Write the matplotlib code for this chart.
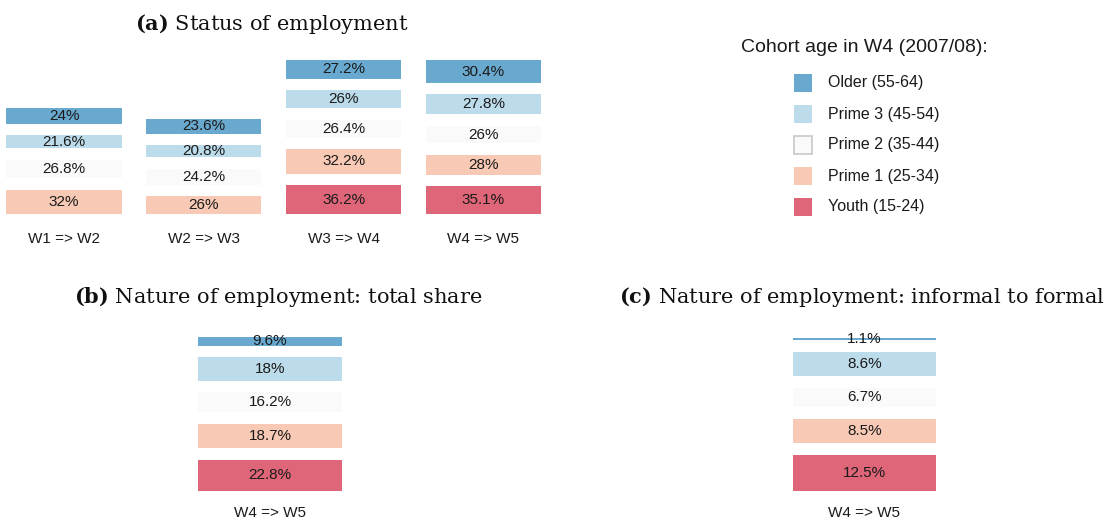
import numpy as np
import matplotlib
matplotlib.use("Agg")
import matplotlib.pyplot as plt
from matplotlib.patches import Rectangle

## -- data -- ##
cohorts = ["Older (55-64)", "Prime 3 (45-54)", "Prime 2 (35-44)", "Prime 1 (25-34)", "Youth (15-24)"]
legend_title = "Cohort age in W4 (2007/08):"

waves_a = ["W1 => W2", "W2 => W3", "W3 => W4", "W4 => W5"]
older_a  = [24.0, 23.6, 27.2, 30.4]
prime3_a = [21.6, 20.8, 26.0, 27.8]
prime2_a = [26.8, 24.2, 26.4, 26.0]
prime1_a = [32.0, 26.0, 32.2, 28.0]
youth_a  = [np.nan, np.nan, 36.2, 35.1]

waves_bc = ["W4 => W5"]
total_share_b   = [9.6, 18.0, 16.2, 18.7, 22.8]   # Older .. Youth
inf_to_formal_c = [1.1, 8.6, 6.7, 8.5, 12.5]      # Older .. Youth

titles = ["(a)", "(b)", "(c)"]
subtitles = ["Status of employment",
             "Nature of employment: total share",
             "Nature of employment: informal to formal"]

## -- style -- ##
colors = ["#0571b0", "#92c5de", "#f7f7f7", "#f4a582", "#ca0020"]
ALPHA = 0.6
TXT = "#1a1a1a"
SANS = "Liberation Sans"
SERIF = "DejaVu Serif"

plt.rcParams["font.family"] = SANS
plt.rcParams["mathtext.fontset"] = "custom"
plt.rcParams["mathtext.rm"] = SERIF
plt.rcParams["mathtext.bf"] = SERIF + ":bold"

W, H = 1112, 520
fig = plt.figure(figsize=(W / 100, H / 100), dpi=100)


def px_axes(left, top, width, height):
    # pixel box (top-left origin) -> figure axes
    return fig.add_axes([left / W, (H - top - height) / H, width / W, height / H])


def stacked(ax, x, vals, k, shrink, gap, width):
    # vals ordered Older..Youth, stacked from the bottom (Youth first)
    pos = 0.0
    for i in reversed(range(len(vals))):
        v = vals[i]
        if np.isnan(v):
            continue
        h = v - shrink / k
        ax.bar(x, h, bottom=pos, width=width, color=colors[i], alpha=ALPHA,
               linewidth=0, align="center")
        ax.text(x, pos + h / 2, f"{v:g}%", ha="center", va="center",
                fontsize=11, color=TXT)
        pos += h + gap / k


## -- panel (a) -- ##
ka = 1.08
axa = px_axes(1.1, 214 - 175 * ka, 3.9 * 139.8, 175 * ka)
axa.set_xlim(-0.45, 3.45)
axa.set_ylim(0, 175)
for j, wave in enumerate(waves_a):
    vals = [older_a[j], prime3_a[j], prime2_a[j], prime1_a[j], youth_a[j]]
    stacked(axa, j, vals, ka, 10.3, 11.5, 0.823)
    axa.annotate(wave, xy=(j, 0), xytext=(0, -18), textcoords="offset points",
                 ha="center", va="center", fontsize=11, color=TXT)
axa.axis("off")

## -- panel (b) and (c) -- ##
panels_bc = [(total_share_b, 270.0, 1.68, 7.0, 95), (inf_to_formal_c, 864.5, 3.0, 1.0, 52)]
for vals, cx, k, shrink, ymax in panels_bc:
    ax = px_axes(cx - 90, 491 - ymax * k, 180, ymax * k)
    ax.set_xlim(-0.5, 0.5)
    ax.set_ylim(0, ymax)
    stacked(ax, 0, vals, k, shrink, 11.5, 0.8)
    ax.annotate(waves_bc[0], xy=(0, 0), xytext=(0, -15.5), textcoords="offset points",
                ha="center", va="center", fontsize=11, color=TXT)
    ax.axis("off")

## -- titles -- ##
title_pos = [(272, 24), (278, 297), (862, 297)]
for (tx, ty), tag, sub in zip(title_pos, titles, subtitles):
    fig.text(tx / W, 1 - ty / H, rf"$\mathbf{{{tag}}}$ {sub}", ha="center", va="center",
             fontsize=15, family=SERIF, color="#111111")

## -- legend -- ##
fig.text(741 / W, 1 - 48 / H, legend_title, ha="left", va="center", fontsize=14, color=TXT)
for i, (lab, col) in enumerate(zip(cohorts, colors)):
    cy = 83 + 31 * i
    fig.patches.append(Rectangle((794 / W, 1 - (cy + 9) / H), 18 / W, 18 / H,
                                 transform=fig.transFigure, facecolor=col, alpha=ALPHA,
                                 edgecolor="none"))
    if col == "#f7f7f7":
        # near-white key gets a grey outline as in the original legend
        fig.patches.append(Rectangle((794 / W, 1 - (cy + 9) / H), 18 / W, 18 / H,
                                     transform=fig.transFigure, facecolor="none",
                                     edgecolor="#c8c8c8", linewidth=1.2))
    fig.text(828 / W, 1 - cy / H, lab, ha="left", va="center", fontsize=11.5, color=TXT)

fig.savefig("out.png", dpi=100, facecolor="white")
